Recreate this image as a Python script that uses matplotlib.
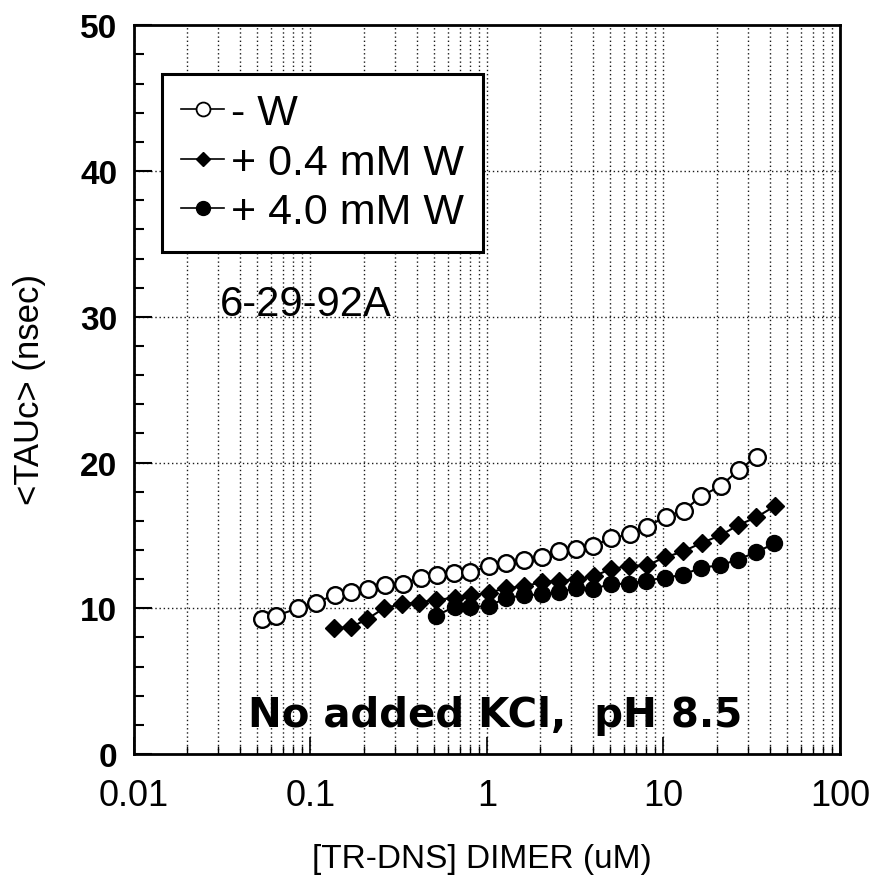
import matplotlib
matplotlib.use("Agg")
import matplotlib.pyplot as plt
from matplotlib.lines import Line2D
from matplotlib.ticker import LogLocator, MultipleLocator, NullFormatter, FixedLocator

plt.rcParams['font.family'] = ['Liberation Sans', 'DejaVu Sans']

# -W (open circles)
x_nw = [0.053, 0.064, 0.085, 0.107, 0.137, 0.169, 0.211, 0.263, 0.333, 0.422,
        0.52, 0.649, 0.801, 1.03, 1.28, 1.62, 2.05, 2.57, 3.2, 4.0,
        5.06, 6.49, 8.11, 10.3, 13.0, 16.4, 21.1, 26.7, 33.8]
y_nw = [9.3, 9.5, 10.0, 10.4, 10.9, 11.1, 11.3, 11.6, 11.7, 12.1,
        12.3, 12.4, 12.5, 12.9, 13.1, 13.3, 13.5, 13.9, 14.1, 14.3,
        14.8, 15.1, 15.6, 16.3, 16.7, 17.7, 18.4, 19.5, 20.4]

# +0.4 mM W (diamonds)
x_w04 = [0.136, 0.169, 0.209, 0.26, 0.33, 0.411, 0.515, 0.655, 0.814, 1.02,
         1.28, 1.62, 2.04, 2.57, 3.25, 4.04, 5.02, 6.41, 8.04, 10.2,
         12.9, 16.5, 21.0, 26.4, 33.6, 42.6]
y_w04 = [8.65, 8.7, 9.25, 10.0, 10.3, 10.4, 10.6, 10.7, 10.9, 11.05,
         11.4, 11.5, 11.8, 11.9, 12.0, 12.2, 12.7, 12.9, 12.95, 13.5,
         13.9, 14.5, 15.0, 15.7, 16.25, 17.0]

# +4.0 mM W (filled circles)
x_w40 = [0.515, 0.655, 0.80, 1.02, 1.28, 1.62, 2.04, 2.55, 3.2, 4.0,
         5.02, 6.4, 8.0, 10.2, 12.9, 16.4, 21.0, 26.4, 33.6, 42.4]
y_w40 = [9.5, 10.1, 10.1, 10.15, 10.7, 10.9, 10.95, 11.1, 11.4, 11.35,
         11.65, 11.7, 11.9, 12.1, 12.3, 12.8, 12.95, 13.35, 13.85, 14.45]

labels = ['- W', '+ 0.4 mM W', '+ 4.0 mM W']
x_ticks = [0.01, 0.1, 1, 10, 100]
x_ticklabels = ['0.01', '0.1', '1', '10', '100']
y_ticks = [0, 10, 20, 30, 40, 50]

fig = plt.figure(figsize=(8.7, 8.78), dpi=100)
ax = fig.add_axes([0.154, 0.140, 0.8115, 0.830])

ax.plot(x_nw, y_nw, color='black', lw=1.5, marker='o', ms=12,
        mfc='white', mec='black', mew=1.7, zorder=3)
ax.plot(x_w04, y_w04, color='black', lw=1.5, marker='D', ms=9.5,
        mfc='black', mec='black', zorder=3)
ax.plot(x_w40, y_w40, color='black', lw=1.5, marker='o', ms=11.5,
        mfc='black', mec='black', zorder=3)

ax.set_xscale('log')
ax.set_xlim(0.01, 100)
ax.set_ylim(0, 50)

ax.xaxis.set_major_locator(FixedLocator(x_ticks))
ax.set_xticklabels(x_ticklabels)
ax.xaxis.set_minor_locator(LogLocator(base=10, subs=range(2, 10)))
ax.xaxis.set_minor_formatter(NullFormatter())
ax.set_yticks(y_ticks)
ax.yaxis.set_minor_locator(MultipleLocator(2))

ax.tick_params(axis='x', which='major', direction='in', length=12, width=1.2,
               labelsize=26, pad=17)
ax.tick_params(axis='x', which='minor', direction='in', length=6, width=1)
ax.tick_params(axis='y', which='major', direction='in', length=13, width=1.5,
               labelsize=24, pad=12)
ax.tick_params(axis='y', which='minor', direction='in', length=7, width=1.5)
for lab in ax.get_yticklabels():
    lab.set_fontweight('bold')

for s in ax.spines.values():
    s.set_linewidth(2)

dots = (0, (1, 2))
ax.grid(True, axis='x', which='both', color='0.1', lw=1.0, linestyle=dots)
for yv in [10, 20, 30, 40]:
    ax.axhline(yv, color='0.1', lw=1.0, linestyle=dots, zorder=1)

handles = [
    Line2D([], [], color='black', lw=1.2, marker='o', ms=10, mfc='white', mec='black', mew=1.3),
    Line2D([], [], color='black', lw=1.2, marker='D', ms=7, mfc='black', mec='black'),
    Line2D([], [], color='black', lw=1.2, marker='o', ms=10, mfc='black', mec='black'),
]
leg = ax.legend(handles, labels, loc='upper left',
                bbox_to_anchor=(162 / 870, 1 - 75 / 878),
                bbox_transform=fig.transFigure, borderaxespad=0,
                fontsize=31, frameon=True, fancybox=False, framealpha=1,
                edgecolor='black', handlelength=1.0, handletextpad=0.15,
                labelspacing=0.22, borderpad=0.45)
leg.get_frame().set_linewidth(2.2)

fig.text(306 / 870, 1 - 305 / 878, '6-29-92A', fontsize=30,
         ha='center', va='center')
fig.text(495 / 870, 1 - 716 / 878, 'No added KCl,  pH 8.5', fontsize=29,
         family='DejaVu Sans', fontweight='bold', ha='center', va='center')

fig.text(482 / 870, 1 - 860 / 878, '[TR-DNS] DIMER (uM)', fontsize=24,
         ha='center', va='center')
fig.text(30 / 870, 1 - 390 / 878, '<TAUc> (nsec)', fontsize=25,
         rotation=90, ha='center', va='center')

fig.savefig('out.png', dpi=100)
